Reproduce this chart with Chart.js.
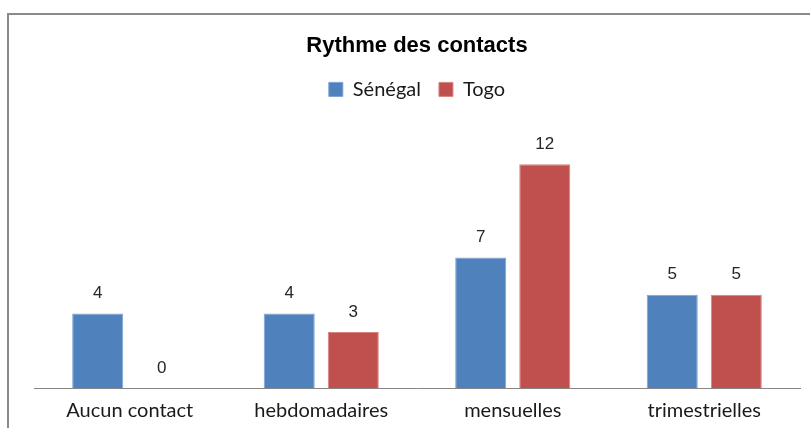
<!DOCTYPE html>
<html>
<head>
<meta charset="utf-8">
<script src="https://cdn.jsdelivr.net/npm/chart.js@4/dist/chart.umd.min.js"></script>
<style>
html,body{margin:0;padding:0;background:#fff;}
#wrap{position:relative;width:810px;height:428px;}
</style>
</head>
<body>
<div id="wrap"><canvas id="c" width="810" height="428"></canvas></div>
<script>
const categories = ["Aucun contact", "hebdomadaires", "mensuelles", "trimestrielles"];
const senegal = [4, 4, 7, 5];
const togo = [0, 3, 12, 5];
const seriesNames = ["Sénégal", "Togo"];
const chartTitle = "Rythme des contacts";

const framePlugin = {
  id: 'frame',
  beforeDraw(chart) {
    const ctx = chart.ctx;
    ctx.save();
    ctx.fillStyle = '#fff';
    ctx.fillRect(0, 0, chart.width, chart.height);
    ctx.strokeStyle = '#8a8a8a';
    ctx.lineWidth = 2;
    ctx.beginPath();
    ctx.moveTo(8, chart.height + 5);
    ctx.lineTo(8, 14);
    ctx.lineTo(chart.width + 5, 14);
    ctx.stroke();
    ctx.restore();
  }
};

const labelPlugin = {
  id: 'valueLabels',
  afterDatasetsDraw(chart) {
    const ctx = chart.ctx;
    ctx.save();
    ctx.font = '17px "Liberation Sans", Arial, sans-serif';
    ctx.fillStyle = '#262626';
    ctx.textAlign = 'center';
    ctx.textBaseline = 'middle';
    chart.data.datasets.forEach((ds, i) => {
      const meta = chart.getDatasetMeta(i);
      meta.data.forEach((bar, j) => {
        ctx.fillText(String(ds.data[j]), bar.x, bar.y - 20);
      });
    });
    ctx.restore();
  }
};

new Chart(document.getElementById('c'), {
  type: 'bar',
  data: {
    labels: categories,
    datasets: [
      { label: seriesNames[0], data: senegal, backgroundColor: '#4F81BD', borderColor: '#7DA2D3', borderWidth: 1 },
      { label: seriesNames[1], data: togo, backgroundColor: '#C0504D', borderColor: '#D88380', borderWidth: 1 }
    ]
  },
  options: {
    responsive: false,
    animation: false,
    devicePixelRatio: 1,
    layout: { padding: { left: 34, right: 10, top: 14, bottom: 0 } },
    datasets: { bar: { barPercentage: 0.797, categoryPercentage: 0.669 } },
    scales: {
      x: {
        grid: { display: false, drawTicks: false },
        border: { display: true, color: '#868686', width: 1 },
        ticks: { color: '#1a1a1a', font: { family: 'Lato, "Open Sans", sans-serif', size: 20 }, padding: 11 },
        afterFit(scale) { scale.height = 40; }
      },
      y: {
        display: false,
        min: 0,
        max: 14.94
      }
    },
    plugins: {
      title: {
        display: true,
        text: chartTitle,
        color: '#000',
        font: { family: '"Liberation Sans", Arial, sans-serif', size: 22, weight: 'bold' },
        padding: { top: 19, bottom: 2 }
      },
      legend: {
        display: true,
        labels: {
          color: '#1a1a1a',
          font: { family: 'Lato, "Open Sans", sans-serif', size: 20 },
          boxWidth: 14,
          boxHeight: 14,
          padding: 18
        }
      },
      tooltip: { enabled: false }
    }
  },
  plugins: [framePlugin, labelPlugin]
});
</script>
</body>
</html>
